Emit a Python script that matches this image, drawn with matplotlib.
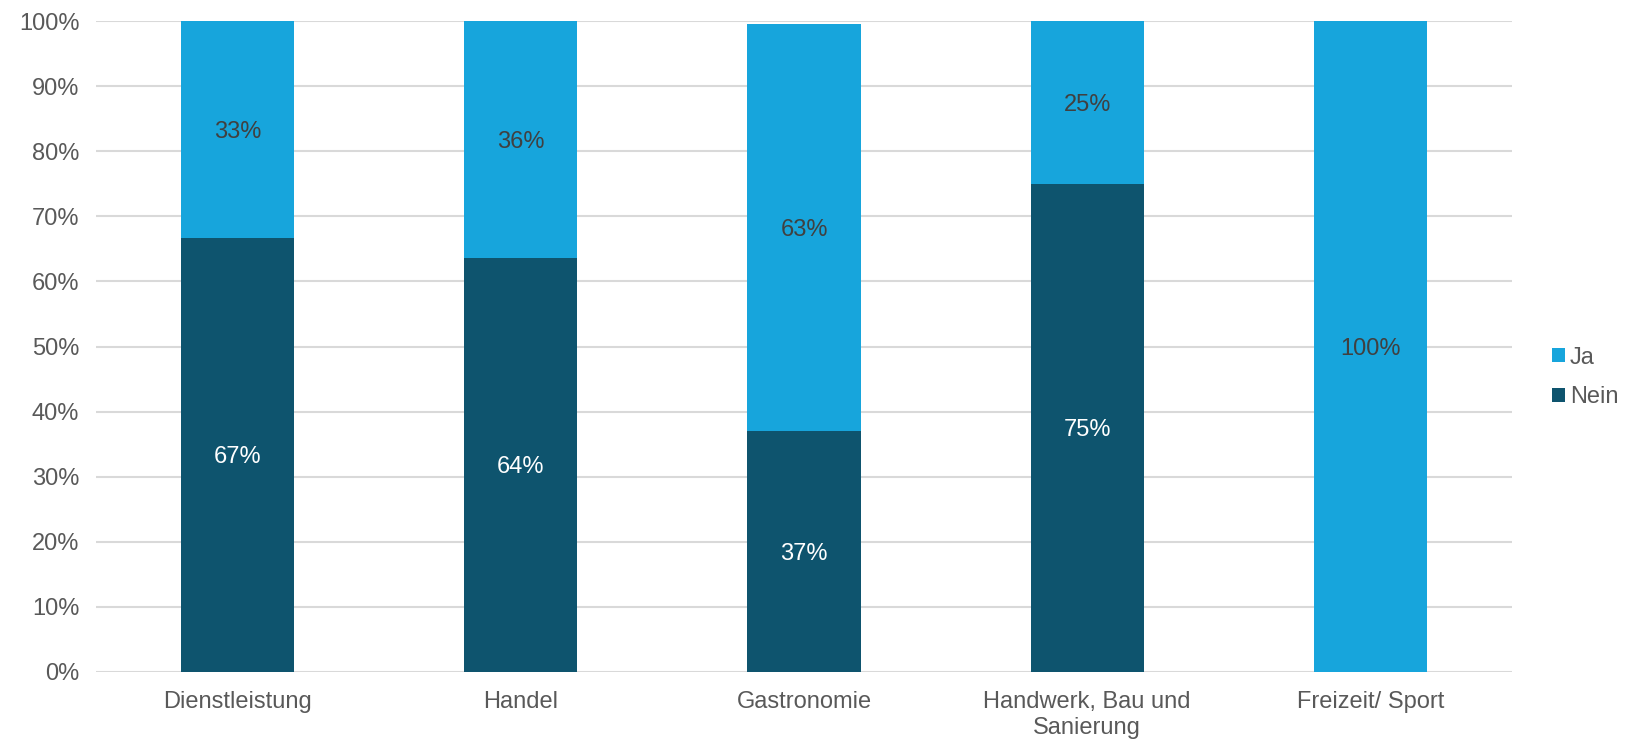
import matplotlib
matplotlib.use("Agg")
import matplotlib.pyplot as plt
from matplotlib.patches import Patch

categories = ["Dienstleistung", "Handel", "Gastronomie", "Handwerk, Bau und\nSanierung", "Freizeit/ Sport"]
nein = [66.7, 63.6, 37.0, 75.0, 0.0]
ja = [33.3, 36.4, 62.5, 25.0, 100.0]
yticks = [0, 10, 20, 30, 40, 50, 60, 70, 80, 90, 100]

c_ja = "#17A5DC"
c_nein = "#0E546E"

plt.rcParams['font.family'] = ['Liberation Sans', 'DejaVu Sans']
FS = 17

fig = plt.figure(figsize=(16.32, 7.4), dpi=100)
ax = fig.add_axes([0.0588, 0.0919, 0.8677, 0.8797])

x = list(range(len(categories)))
w = 0.4
ax.bar(x, nein, width=w, color=c_nein, zorder=3)
ax.bar(x, ja, width=w, bottom=nein, color=c_ja, zorder=3)

def rnd(v):
    return int(v + 0.5)

for i in x:
    if nein[i] > 0:
        ax.text(i, nein[i] / 2, f"{rnd(nein[i])}%", ha="center", va="center_baseline",
                color="white", fontsize=FS, zorder=4)
    if ja[i] > 0:
        ax.text(i, nein[i] + ja[i] / 2, f"{rnd(ja[i])}%", ha="center", va="center_baseline",
                color="#404040", fontsize=FS, zorder=4)

ax.set_xlim(-0.5, len(categories) - 0.5)
ax.set_ylim(0, 100)
ax.set_yticks(yticks)
ax.set_yticklabels([f"{t}%" for t in yticks])
ax.set_xticks(x)
ax.set_xticklabels(categories, linespacing=1.2)
ax.tick_params(axis="both", length=0, labelsize=FS, colors="#595959")
ax.tick_params(axis="x", pad=14)
ax.tick_params(axis="y", pad=12)
ax.grid(axis="y", color="#d9d9d9", linewidth=1.5, zorder=0)
for s in ax.spines.values():
    s.set_visible(False)

handles = [Patch(facecolor=c_ja, label="Ja"), Patch(facecolor=c_nein, label="Nein")]
leg = fig.legend(handles=handles, loc="center left", bbox_to_anchor=(0.951, 0.490),
                 frameon=False, fontsize=FS, handlelength=0.55, handleheight=0.55,
                 handletextpad=0.2, labelspacing=0.75, borderpad=0, borderaxespad=0)
for t in leg.get_texts():
    t.set_color("#595959")

fig.savefig("out.png", dpi=100, facecolor="white")
